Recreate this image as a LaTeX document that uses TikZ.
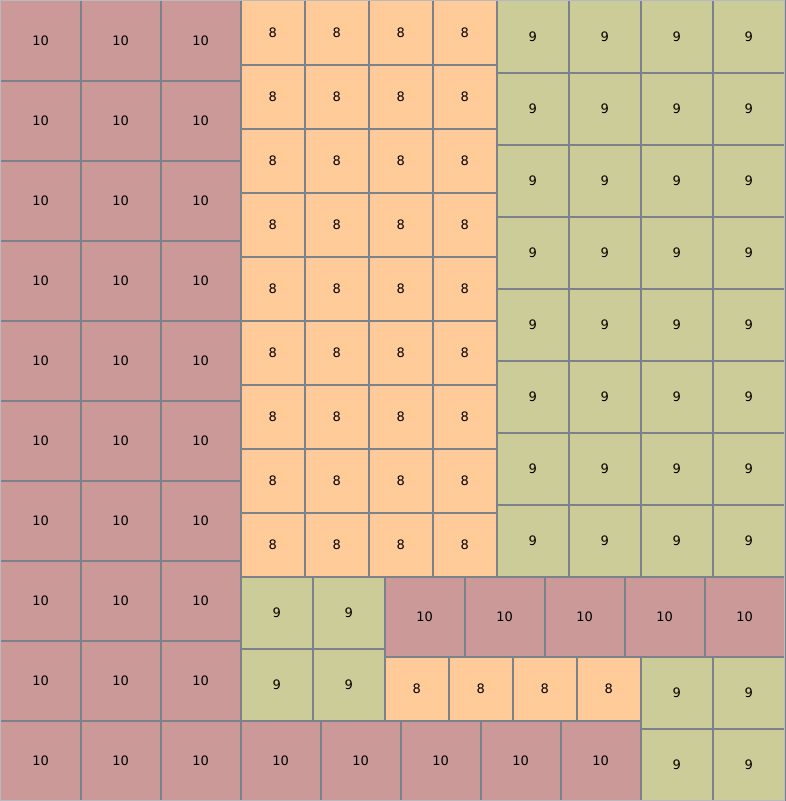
\documentclass[tikz,border=0pt]{standalone}
\usepackage{fontspec}
\setmainfont{DejaVu Sans}
\definecolor{tileRed}{HTML}{CC9999}
\definecolor{tileOrange}{HTML}{FFCC99}
\definecolor{tileGreen}{HTML}{CCCC99}
\definecolor{gridLine}{HTML}{7D818A}
\pgfdeclarelayer{front}
\pgfsetlayers{main,front}
\tikzset{
  tile/.style={inner sep=0pt, anchor=north west, font=\fontsize{13}{15}\selectfont,
               append after command={\pgfextra{\begin{pgfonlayer}{front}
                 \draw[gridLine, line width=0.4pt] (\tikzlastnode.north west)
                   rectangle (\tikzlastnode.south east);
               \end{pgfonlayer}}}},
  ten/.style={tile, fill=tileRed, minimum size=80pt},
  eight/.style={tile, fill=tileOrange, minimum size=64pt},
  nine/.style={tile, fill=tileGreen, minimum size=72pt},
}
\begin{document}
\begin{tikzpicture}[x=1pt,y=-1pt]
  \useasboundingbox (-0.5,-0.5) rectangle (784.5,800.5);
  % left column of tens
  \foreach \i in {0,...,2}{\foreach \j in {0,...,9}{
    \node[ten] (ta-\i-\j) at (80*\i,80*\j) {10};}}
  % upper eights and nines
  \foreach \i in {0,...,3}{\foreach \j in {0,...,8}{
    \node[eight] (ea-\i-\j) at (240+64*\i,64*\j) {8};}}
  \foreach \i in {0,...,3}{\foreach \j in {0,...,7}{
    \node[nine] (na-\i-\j) at (496+72*\i,72*\j) {9};}}
  % lower part
  \foreach \i in {0,1}{\foreach \j in {0,1}{
    \node[nine] (nb-\i-\j) at (240+72*\i,576+72*\j) {9};
    \node[nine] (nc-\i-\j) at (640+72*\i,656+72*\j) {9};}}
  \foreach \i in {0,...,4}{
    \node[ten] (tb-\i) at (384+80*\i,576) {10};
    \node[ten] (tc-\i) at (240+80*\i,720) {10};}
  \foreach \i in {0,...,3}{
    \node[eight] (eb-\i) at (384+64*\i,656) {8};}
  % outer frame
  \begin{pgfonlayer}{front}
    \draw[gridLine!55, line width=0.8pt] (0,0) rectangle (784,800);
  \end{pgfonlayer}
\end{tikzpicture}
\end{document}
